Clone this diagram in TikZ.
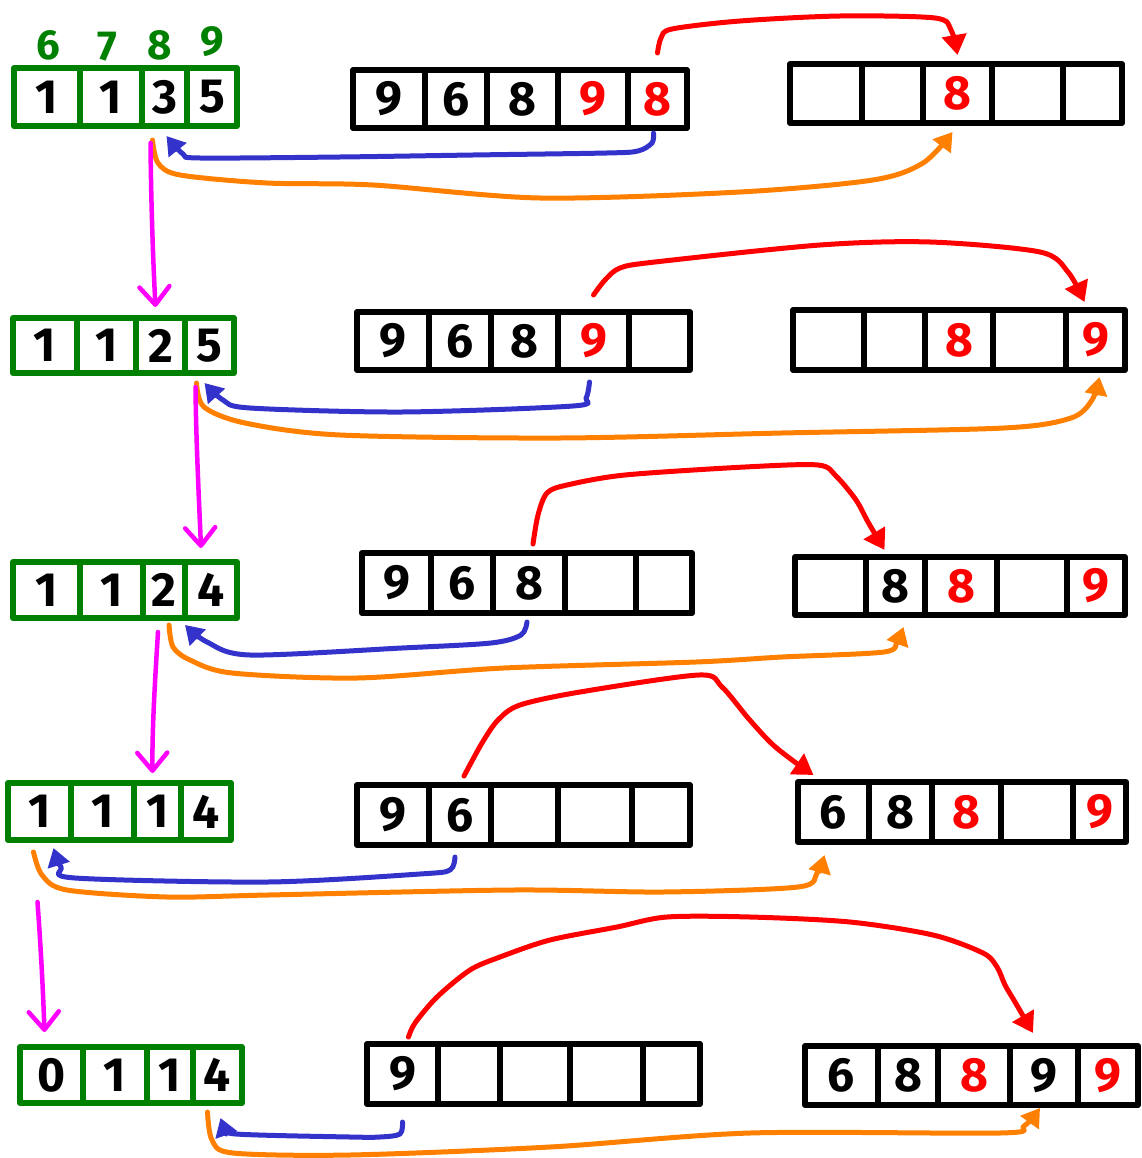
\documentclass[tikz,border=0pt]{standalone}
\usepackage{fontspec}
\newfontfamily\digitfont{Fira Sans}
\usetikzlibrary{arrows.meta}
\definecolor{cgreen}{RGB}{0,128,0}
\definecolor{cred}{RGB}{255,0,0}
\definecolor{cblue}{RGB}{51,51,204}
\definecolor{corange}{RGB}{255,128,0}
\definecolor{cmag}{RGB}{255,0,255}
\begin{document}
\begin{tikzpicture}[x=1pt,y=-1pt,
  cellbase/.style={draw, line width=6pt, line join=round, inner sep=0pt, outer sep=0pt,
    font=\digitfont\bfseries\fontsize{48}{48}\selectfont},
  gcell/.style={cellbase, draw=cgreen},
  kcell/.style={cellbase, draw=black},
  lab/.style={text=cgreen, inner sep=0pt, font=\digitfont\bfseries\fontsize{42}{42}\selectfont},
  redarr/.style={draw=cred, line width=5pt, line cap=round, line join=round, -{Triangle[length=20pt,width=24pt]}},
  bluearr/.style={draw=cblue, line width=5pt, line cap=round, line join=round, -{Triangle[length=18pt,width=22pt]}},
  orarr/.style={draw=corange, line width=5pt, line cap=round, line join=round, -{Triangle[length=18pt,width=22pt]}},
  magarr/.style={draw=cmag, line width=4.5pt, line cap=round, -{Straight Barb[length=18pt,width=30pt,round]}}
]
\useasboundingbox (0,0) rectangle (1141,1158);

% ---------- row 1 ----------
\foreach \n/\a/\b/\t/\c in {1/14/80/1/black,2/80/142/1/black,3/142/187/3/black,4/187/237/5/black}
  \node[gcell, text=\c, minimum width={(\b-\a)*1pt}, minimum height=58pt] (G1-\n) at ({(\a+\b)/2},97) {\t};
\foreach \n/\a/\b/\t/\c in {1/353/425/9/black,2/425/487/6/black,3/487/558/8/black,4/558/628/9/cred,5/628/687/8/cred}
  \node[kcell, text=\c, minimum width={(\b-\a)*1pt}, minimum height=58pt] (I1-\n) at ({(\a+\b)/2},99) {\t};
\foreach \n/\a/\b/\t/\c in {1/790/862//black,2/862/923//black,3/923/992/8/cred,4/992/1063//black,5/1063/1122//black}
  \node[kcell, text=\c, minimum width={(\b-\a)*1pt}, minimum height=59pt] (O1-\n) at ({(\a+\b)/2},93.5) {\t};
\node[lab] (l6) at (48,45) {6};
\node[lab] (l7) at (107,47) {7};
\node[lab] (l8) at (160,45) {8};
\node[lab] (l9) at (212,42) {9};

% ---------- row 2 ----------
\foreach \n/\a/\b/\t/\c in {1/13/77/1/black,2/77/136/1/black,3/136/185/2/black,4/185/234/5/black}
  \node[gcell, text=\c, minimum width={(\b-\a)*1pt}, minimum height=55pt] (G2-\n) at ({(\a+\b)/2},345.5) {\t};
\foreach \n/\a/\b/\t/\c in {1/357/429/9/black,2/429/491/6/black,3/491/558/8/black,4/558/629/9/cred,5/629/690//black}
  \node[kcell, text=\c, minimum width={(\b-\a)*1pt}, minimum height=58pt] (I2-\n) at ({(\a+\b)/2},341) {\t};
\foreach \n/\a/\b/\t/\c in {1/793/864//black,2/864/925//black,3/925/993/8/cred,4/993/1066//black,5/1066/1125/9/cred}
  \node[kcell, text=\c, minimum width={(\b-\a)*1pt}, minimum height=60pt] (O2-\n) at ({(\a+\b)/2},340) {\t};

% ---------- row 3 ----------
\foreach \n/\a/\b/\t/\c in {1/13/80/1/black,2/80/143/1/black,3/143/185/2/black,4/185/237/4/black}
  \node[gcell, text=\c, minimum width={(\b-\a)*1pt}, minimum height=56pt] (G3-\n) at ({(\a+\b)/2},590) {\t};
\foreach \n/\a/\b/\t/\c in {1/362/431/9/black,2/431/493/6/black,3/493/565/8/black,4/565/636//black,5/636/692//black}
  \node[kcell, text=\c, minimum width={(\b-\a)*1pt}, minimum height=60pt] (I3-\n) at ({(\a+\b)/2},583) {\t};
\foreach \n/\a/\b/\t/\c in {1/795/866//black,2/866/925/8/black,3/925/997/8/cred,4/997/1067//black,5/1067/1125/9/cred}
  \node[kcell, text=\c, minimum width={(\b-\a)*1pt}, minimum height=58pt] (O3-\n) at ({(\a+\b)/2},586) {\t};

% ---------- row 4 ----------
\foreach \n/\a/\b/\t/\c in {1/8/71/1/black,2/71/134/1/black,3/134/181/1/black,4/181/231/4/black}
  \node[gcell, text=\c, minimum width={(\b-\a)*1pt}, minimum height=57pt] (G4-\n) at ({(\a+\b)/2},811.5) {\t};
\foreach \n/\a/\b/\t/\c in {1/357/429/9/black,2/429/491/6/black,3/491/558//black,4/558/632//black,5/632/690//black}
  \node[kcell, text=\c, minimum width={(\b-\a)*1pt}, minimum height=60pt] (I4-\n) at ({(\a+\b)/2},815) {\t};
\foreach \n/\a/\b/\t/\c in {1/798/869/6/black,2/869/932/8/black,3/932/1001/8/cred,4/1001/1073//black,5/1073/1126/9/cred}
  \node[kcell, text=\c, minimum width={(\b-\a)*1pt}, minimum height=60pt] (O4-\n) at ({(\a+\b)/2},812) {\t};

% ---------- row 5 ----------
\foreach \n/\a/\b/\t/\c in {1/20/83/0/black,2/83/147/1/black,3/147/193/1/black,4/193/242/4/black}
  \node[gcell, text=\c, minimum width={(\b-\a)*1pt}, minimum height=56pt] (G5-\n) at ({(\a+\b)/2},1075) {\t};
\foreach \n/\a/\b/\t/\c in {1/367/438/9/black,2/438/500//black,3/500/570//black,4/570/643//black,5/643/700//black}
  \node[kcell, text=\c, minimum width={(\b-\a)*1pt}, minimum height=60pt] (I5-\n) at ({(\a+\b)/2},1074) {\t};
\foreach \n/\a/\b/\t/\c in {1/805/878/6/black,2/878/938/8/black,3/938/1010/8/cred,4/1010/1078/9/black,5/1078/1138/9/cred}
  \node[kcell, text=\c, minimum width={(\b-\a)*1pt}, minimum height=59pt] (O5-\n) at ({(\a+\b)/2},1075.5) {\t};

% ---------- red arrows ----------
\draw[redarr] plot[smooth] coordinates {([yshift=17pt]I1-5.north) (661,38) (672,29) (740,21) (840,16) (935,18) (951,30) ([yshift=9pt]O1-3.north)};
\draw[redarr] plot[smooth] coordinates {([yshift=17pt]I2-4.north) (605,280) (620,268) (655,262) (820,245) (930,242) (1040,252) (1068,272) ([xshift=-11pt,yshift=8pt]O2-5.north)};
\draw[redarr] plot[smooth] coordinates {([xshift=4pt,yshift=9pt]I3-3.north) (538,515) (547,493) (567,485) (625,475) (745,467) (818,465) (836,476) (856,500) (868,522) ([xshift=-11pt,yshift=7pt]O3-2.north)};
\draw[redarr] plot[smooth] coordinates {([xshift=4pt,yshift=9pt]I4-2.north) (482,743) (498,720) (520,705) (580,692) (699,675) (722,687) (748,718) (771,743) (792,760) ([xshift=-20pt,yshift=7pt]O4-1.north)};
\draw[redarr] plot[smooth] coordinates {([xshift=6pt,yshift=7pt]I5-1.north) (415,1023) (437,997) (470,970) (500,957) (550,940) (617,927) (667,917) (750,917) (850,922) (933,935) (983,953) (997,967) (1005,985) (1015,1002) ([xshift=-11pt,yshift=13pt]O5-4.north)};

% ---------- blue arrows ----------
\draw[bluearr] plot[smooth] coordinates {([xshift=-4pt,yshift=-5pt]I1-5.south) (652,143) (638,151) (607,153) (473,155) (340,157) (200,158) (183,154) ([xshift=2pt,yshift=-10pt]G1-3.south)};
\draw[bluearr] plot[smooth] coordinates {([xshift=-4pt,yshift=-12pt]I2-4.south) (586,398) (573,406) (402,412) (250,408) (223,400) ([xshift=-5pt,yshift=-10pt]G2-4.south)};
\draw[bluearr] plot[smooth] coordinates {([xshift=-2pt,yshift=-9pt]I3-3.south) (521,635) (491,643) (402,648) (250,655) (207,642) ([yshift=-7pt]G3-3.south east)};
\draw[bluearr] plot[smooth] coordinates {([xshift=-5pt,yshift=-12pt]I4-2.south) (450,870) (420,874) (268,882) (75,878) (61,867) ([xshift=14pt,yshift=-8pt]G4-1.south)};
\draw[bluearr] plot[smooth] coordinates {([yshift=-18pt]I5-1.south) (400,1134) (380,1137) (350,1137) (236,1134) (225,1127) ([xshift=3pt,yshift=-15pt]G5-4.south)};

% ---------- orange arrows ----------
\draw[orarr] plot[smooth] coordinates {([xshift=-12pt,yshift=-14pt]G1-3.south) (158,163) (180,175) (267,183) (373,185) (540,198) (740,192) (873,180) (923,163) ([xshift=-5pt,yshift=-9pt]O1-3.south)};
\draw[orarr] plot[smooth] coordinates {([xshift=-13pt,yshift=-10pt]G2-4.south) (204,407) (245,423) (340,435) (560,438) (782,433) (1004,428) (1071,418) (1092,400) ([xshift=4pt,yshift=-7pt]O2-5.south)};
\draw[orarr] plot[smooth] coordinates {([xshift=5pt,yshift=-7pt]G3-3.south) (173,647) (190,660) (232,673) (357,678) (504,668) (696,662) (782,657) (884,652) (897,641) ([xshift=8pt,yshift=-12pt]O3-2.south)};
\draw[orarr] plot[smooth] coordinates {([xshift=-6pt,yshift=-12pt]G4-1.south) (42,875) (67,890) (167,897) (268,895) (513,890) (663,892) (798,887) (817,873) ([xshift=-9pt,yshift=-13pt]O4-1.south)};
\draw[orarr] plot[smooth] coordinates {([xshift=-10pt,yshift=-9pt]G5-4.south) (212,1140) (233,1153) (350,1155) (550,1147) (750,1133) (1000,1133) (1024,1126) ([xshift=-4pt,yshift=-3pt]O5-4.south)};

% ---------- magenta arrows ----------
\draw[magarr] ([xshift=-14pt,yshift=-17pt]G1-3.south) .. controls (151,200) and (153,260) .. ([xshift=-5pt,yshift=11pt]G2-3.north);
\draw[magarr] ([xshift=-14pt,yshift=-14pt]G2-4.south) .. controls (196,440) and (199,500) .. ([xshift=-10pt,yshift=14pt]G3-4.north);
\draw[magarr] ([xshift=-6pt,yshift=-14pt]G3-3.south) .. controls (155,680) and (152,730) .. ([xshift=-5pt,yshift=10pt]G4-3.north);
\coordinate (m4s) at ([xshift=-2pt,yshift=-62pt]G4-1.south);
\draw[magarr] (m4s) .. controls (41,950) and (43,990) .. ([xshift=-7pt,yshift=15pt]G5-1.north);
\end{tikzpicture}
\end{document}
